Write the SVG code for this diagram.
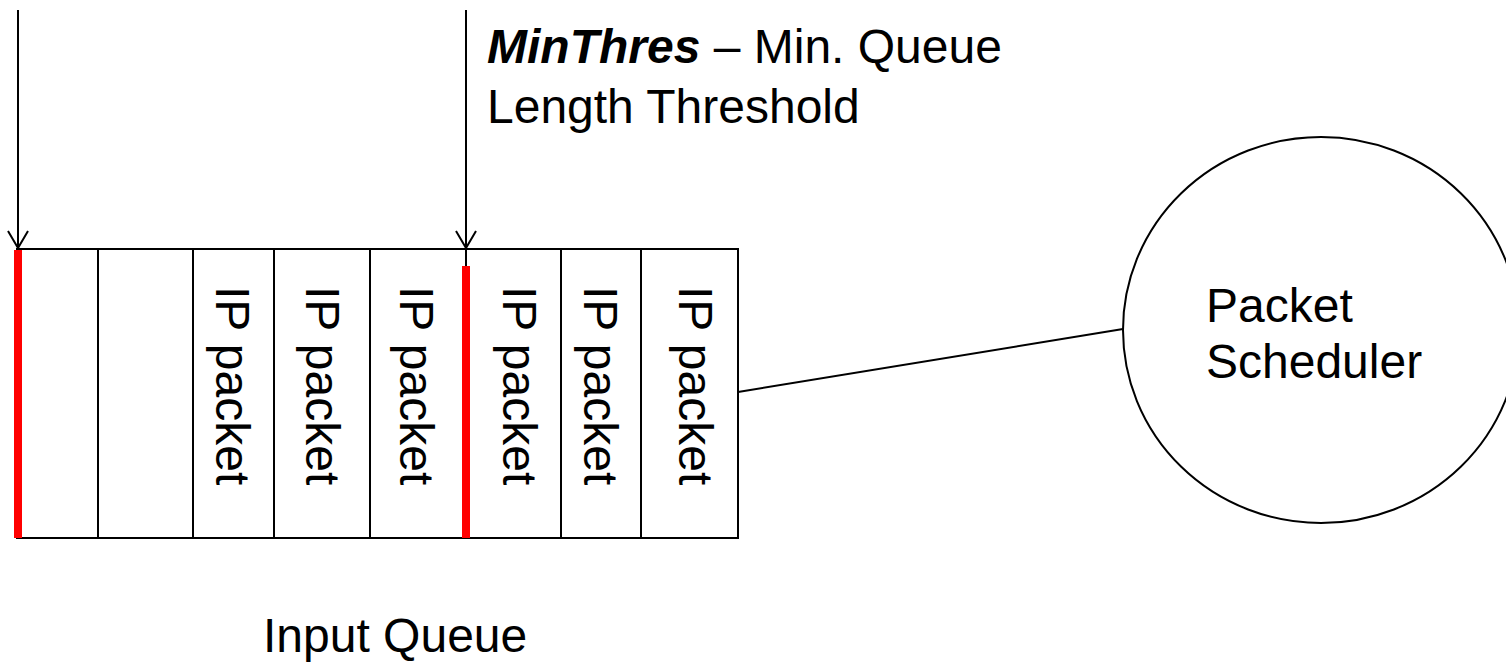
<svg xmlns="http://www.w3.org/2000/svg" width="1506" height="665" viewBox="0 0 1506 665">
<style>
  .t { font-family: "Liberation Sans", Arial, sans-serif; font-size: 48px; fill: #000; }
  .ln { stroke: #000; stroke-width: 2; fill: none; }
  .red { stroke: #ff0000; stroke-width: 8; fill: none; }
</style>
<rect width="1506" height="665" fill="#fff"/>
<g id="queue">
  <rect class="ln" x="17" y="249" width="721" height="289"/>
  <line class="ln" x1="98" y1="249" x2="98" y2="538"/>
  <line class="ln" x1="193" y1="249" x2="193" y2="538"/>
  <line class="ln" x1="274" y1="249" x2="274" y2="538"/>
  <line class="ln" x1="370" y1="249" x2="370" y2="538"/>
  <line class="ln" x1="466" y1="249" x2="466" y2="538"/>
  <line class="ln" x1="561" y1="249" x2="561" y2="538"/>
  <line class="ln" x1="641" y1="249" x2="641" y2="538"/>
  <line class="red" x1="18" y1="250" x2="18" y2="538"/>
  <line class="red" x1="466" y1="266" x2="466" y2="538"/>
  <text class="t" transform="translate(216,286) rotate(90)">IP packet</text>
  <text class="t" transform="translate(306,286) rotate(90)">IP packet</text>
  <text class="t" transform="translate(400,286) rotate(90)">IP packet</text>
  <text class="t" transform="translate(503,286) rotate(90)">IP packet</text>
  <text class="t" transform="translate(584,286) rotate(90)">IP packet</text>
  <text class="t" transform="translate(679,286) rotate(90)">IP packet</text>
  <text class="t" x="263" y="652">Input Queue</text>
</g>
<g id="scheduler">
  <ellipse class="ln" cx="1321" cy="330" rx="198" ry="193"/>
  <text class="t" x="1206" y="322">Packet</text>
  <text class="t" x="1206" y="378">Scheduler</text>
</g>
<g id="label-minthres">
  <text class="t" x="487" y="63"><tspan font-weight="bold" font-style="italic">MinThres</tspan> – Min. Queue</text>
  <text class="t" x="487" y="123">Length Threshold</text>
</g>
<g id="connectors">
  <line class="ln" x1="18" y1="10" x2="18" y2="249"/>
  <polyline class="ln" points="8,231 18,248 28,231"/>
  <line class="ln" x1="466" y1="10" x2="466" y2="266"/>
  <polyline class="ln" points="456,231 466,248 476,231"/>
  <line class="ln" x1="738" y1="392" x2="1123" y2="329"/>
</g>
</svg>
